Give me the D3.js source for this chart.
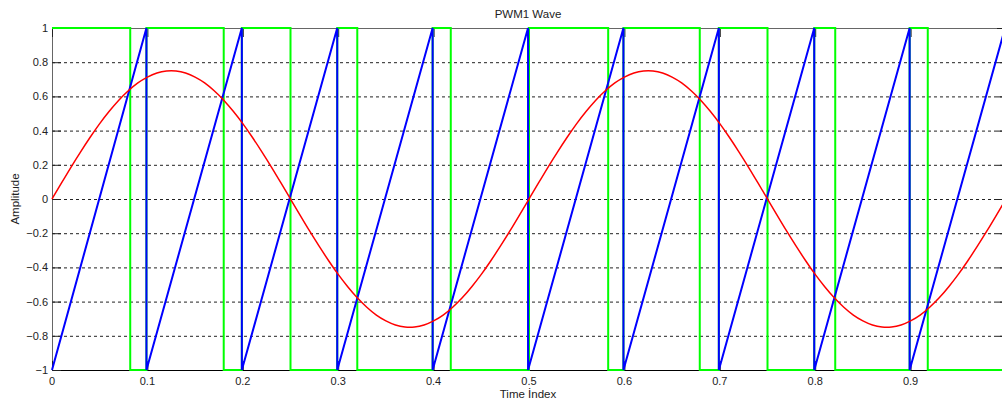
<!DOCTYPE html>
<html>
<head>
<meta charset="utf-8">
<script src="https://cdn.jsdelivr.net/npm/d3@7"></script>
<style>
  body { margin: 0; background: #fff; }
  text { font-family: "Liberation Sans", Arial, sans-serif; fill: #222; }
</style>
</head>
<body>
<script>
var width = 1002, height = 401;

// red reference sine, sampled every 0.01 from 0 to 1
var sineValues = [
  0, 0.094, 0.187, 0.276, 0.361, 0.441, 0.513, 0.578, 0.633, 0.679, 0.713, 0.737, 0.749, 0.749, 0.737, 0.713, 0.679, 0.633, 0.578, 0.513, 0.441, 0.361, 0.276, 0.187, 0.094,
  0, -0.094, -0.187, -0.276, -0.361, -0.441, -0.513, -0.578, -0.633, -0.679, -0.713, -0.737, -0.749, -0.749, -0.737, -0.713, -0.679, -0.633, -0.578, -0.513, -0.441, -0.361, -0.276, -0.187, -0.094,
  0, 0.094, 0.187, 0.276, 0.361, 0.441, 0.513, 0.578, 0.633, 0.679, 0.713, 0.737, 0.749, 0.749, 0.737, 0.713, 0.679, 0.633, 0.578, 0.513, 0.441, 0.361, 0.276, 0.187, 0.094,
  0, -0.094, -0.187, -0.276, -0.361, -0.441, -0.513, -0.578, -0.633, -0.679, -0.713, -0.737, -0.749, -0.749, -0.737, -0.713, -0.679, -0.633, -0.578, -0.513, -0.441, -0.361, -0.276, -0.187, -0.094,
  0
];

// blue carrier (sawtooth) corners
var sawTimes  = [0, 0.099, 0.099, 0.199, 0.199, 0.299, 0.299, 0.399, 0.399, 0.499, 0.499, 0.599, 0.599, 0.699, 0.699, 0.799, 0.799, 0.899, 0.899, 0.999];
var sawValues = [-1, 1, -1, 1, -1, 1, -1, 1, -1, 1, -1, 1, -1, 1, -1, 1, -1, 1, -1, 1];

// green PWM output: switching instants and level after each one
var pwmTimes  = [0, 0.082, 0.099, 0.18, 0.199, 0.25, 0.299, 0.32, 0.399, 0.418, 0.5, 0.583, 0.599, 0.679, 0.699, 0.75, 0.799, 0.821, 0.899, 0.918, 1];
var pwmLevels = [1, -1, 1, -1, 1, -1, 1, -1, 1, -1, 1, -1, 1, -1, 1, -1, 1, -1, 1, -1, -1];

var xTicks = [0, 0.1, 0.2, 0.3, 0.4, 0.5, 0.6, 0.7, 0.8, 0.9];
var yTicks = [-1, -0.8, -0.6, -0.4, -0.2, 0, 0.2, 0.4, 0.6, 0.8, 1];

var pLeft = 52, pRight = 1006, pTop = 28, pBottom = 370;

var x = d3.scaleLinear().domain([0, 1]).range([pLeft, pRight]);
var y = d3.scaleLinear().domain([-1, 1]).range([pBottom, pTop]);

var svg = d3.select("body").append("svg")
    .attr("width", width).attr("height", height)
    .style("background", "white")

// dashed grid
svg.append("g").selectAll("line").data(yTicks.filter(function(d){return d > -1 && d < 1;}))
  .enter().append("line")
    .attr("x1", pLeft).attr("x2", pRight)
    .attr("y1", function(d){return y(d) + 0.5;}).attr("y2", function(d){return y(d) + 0.5;})
    .attr("stroke", "#222").attr("stroke-dasharray", "3,3").attr("stroke-width", 1);

// box
svg.append("rect").attr("x", pLeft + 0.5).attr("y", pTop + 0.5)
    .attr("width", pRight - pLeft).attr("height", pBottom - pTop)
    .attr("fill", "none").attr("stroke", "#666").attr("stroke-width", 1);
svg.append("line").attr("x1", pLeft).attr("x2", pRight).attr("y1", pBottom + 0.5).attr("y2", pBottom + 0.5)
    .attr("stroke", "#000");

// inward ticks
var tickLen = 9;
var yt = svg.append("g").selectAll("g").data(yTicks).enter().append("g");
yt.append("line").attr("x1", pLeft).attr("x2", pLeft + tickLen)
    .attr("y1", function(d){return y(d) + 0.5;}).attr("y2", function(d){return y(d) + 0.5;}).attr("stroke", "#222");
yt.append("line").attr("x1", pRight - tickLen).attr("x2", pRight)
    .attr("y1", function(d){return y(d) + 0.5;}).attr("y2", function(d){return y(d) + 0.5;}).attr("stroke", "#222");
yt.append("text").attr("x", pLeft - 4).attr("y", function(d){return y(d) + 4;})
    .attr("text-anchor", "end").style("font-size", "11px")
    .text(function(d){return d3.format("")(d);});

var xt = svg.append("g").selectAll("g").data(xTicks).enter().append("g");
xt.append("line").attr("y1", pBottom).attr("y2", pBottom - tickLen)
    .attr("x1", function(d){return x(d) + 0.5;}).attr("x2", function(d){return x(d) + 0.5;}).attr("stroke", "#222");
xt.append("line").attr("y1", pTop).attr("y2", pTop + tickLen)
    .attr("x1", function(d){return x(d) + 0.5;}).attr("x2", function(d){return x(d) + 0.5;}).attr("stroke", "#222");
xt.append("text").attr("x", function(d){return x(d);}).attr("y", pBottom + 15)
    .attr("text-anchor", "middle").style("font-size", "11px")
    .text(function(d){return d3.format("")(d);});

// series
var line = d3.line().x(function(d){return x(d[0]);}).y(function(d){return y(d[1]);});

var sawData = sawTimes.map(function(t, i){return [t, sawValues[i]];});
var pwmData = pwmTimes.map(function(t, i){return [t, pwmLevels[i]];});
var sineData = sineValues.map(function(v, i){return [i / 100, v];});

svg.append("path").attr("d", line.curve(d3.curveStepAfter)(pwmData))
    .attr("fill", "none").attr("stroke", "#00ff00").attr("stroke-width", 2);
svg.append("path").attr("d", line.curve(d3.curveLinear)(sawData))
    .attr("fill", "none").attr("stroke", "#0000ff").attr("stroke-width", 2);
svg.append("path").attr("d", line.curve(d3.curveNatural)(sineData))
    .attr("fill", "none").attr("stroke", "#ff0000").attr("stroke-width", 1.5);

// labels
svg.append("text").attr("x", 528).attr("y", 18).attr("text-anchor", "middle")
    .style("font-size", "11.5px").text("PWM1 Wave");
svg.append("text").attr("x", 528).attr("y", 398).attr("text-anchor", "middle")
    .style("font-size", "11.5px").text("Time İndex");
svg.append("text").attr("transform", "translate(19,199) rotate(-90)").attr("text-anchor", "middle")
    .style("font-size", "11.5px").text("Amplitude");
</script>
</body>
</html>
